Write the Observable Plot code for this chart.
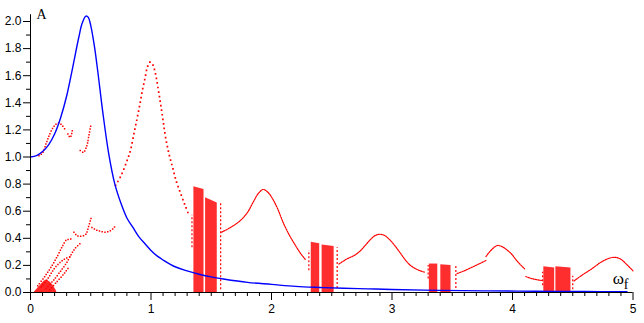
<!DOCTYPE html>
<html>
<head>
<meta charset="utf-8">
<script src="https://cdn.jsdelivr.net/npm/d3@7"></script>
<script src="https://cdn.jsdelivr.net/npm/@observablehq/plot@0.6"></script>
<style>
  html, body { margin: 0; padding: 0; background: #fff; }
  #chart { width: 644px; height: 323px; }
</style>
</head>
<body>
<div id="chart"></div>
<script>
// ---- Axis ticks ----
const xTicks = [0, 1, 2, 3, 4, 5];
const xTickLabels = ["0", "1", "2", "3", "4", "5"];
const yTicks = [0, 0.2, 0.4, 0.6, 0.8, 1.0, 1.2, 1.4, 1.6, 1.8, 2.0];
const yTickLabels = ["0.0", "0.2", "0.4", "0.6", "0.8", "1.0", "1.2", "1.4", "1.6", "1.8", "2.0"];

// ---- Blue curve (linear response amplitude) ----
const blueW = [0, 0.05, 0.10, 0.15, 0.20, 0.25, 0.30, 0.35, 0.40, 0.43, 0.46, 0.48, 0.50, 0.53, 0.56, 0.60, 0.65, 0.70, 0.75, 0.80, 0.85, 0.90, 0.95, 1.00, 1.05, 1.10, 1.20, 1.30, 1.40, 1.50, 1.60, 1.80, 2.00, 2.20, 2.40, 2.60, 2.80, 3.00, 3.40, 3.80, 4.20, 4.60, 4.95];
const blueA = [1.00, 1.01, 1.04, 1.09, 1.17, 1.29, 1.45, 1.66, 1.88, 1.99, 2.04, 2.03, 1.97, 1.82, 1.62, 1.33, 1.02, 0.80, 0.66, 0.55, 0.48, 0.41, 0.36, 0.31, 0.27, 0.24, 0.19, 0.16, 0.135, 0.115, 0.10, 0.075, 0.06, 0.045, 0.037, 0.031, 0.027, 0.022, 0.016, 0.012, 0.009, 0.007, 0.006];

// ---- Red branches (bifurcation diagram), [omega, A] ----
const redPeak1 = [[0.706,0.79],[0.75,0.86],[0.80,0.97],[0.83,1.05],[0.86,1.18],[0.886,1.29],[0.91,1.40],[0.928,1.49],[0.95,1.58],[0.969,1.66],[0.991,1.70],[1.01,1.69],[1.038,1.61],[1.06,1.50],[1.08,1.39],[1.10,1.27],[1.12,1.15],[1.15,1.02],[1.18,0.92],[1.21,0.82],[1.246,0.73],[1.28,0.65],[1.315,0.57]];
const redPeak2 = [[1.585,0.445],[1.66,0.48],[1.74,0.53],[1.80,0.59],[1.85,0.67],[1.89,0.73],[1.93,0.76],[1.97,0.74],[2.01,0.69],[2.05,0.62],[2.10,0.51],[2.15,0.42],[2.19,0.36],[2.24,0.29],[2.28,0.245]];
const redPeak3 = [[2.56,0.21],[2.62,0.245],[2.69,0.275],[2.74,0.31],[2.78,0.35],[2.82,0.39],[2.86,0.42],[2.90,0.43],[2.94,0.42],[2.98,0.39],[3.02,0.35],[3.07,0.29],[3.12,0.23],[3.16,0.195],[3.22,0.165],[3.27,0.15]];
const redPeak4a = [[3.54,0.14],[3.60,0.16],[3.66,0.185],[3.72,0.21],[3.78,0.236]];
const redPeak4b = [[3.78,0.265],[3.82,0.31],[3.875,0.347],[3.92,0.335],[3.96,0.31],[3.99,0.286],[4.04,0.23],[4.10,0.175]];
const redPeak4c = [[4.11,0.118],[4.17,0.10],[4.24,0.089]];
const redPeak5 = [[4.51,0.085],[4.58,0.13],[4.65,0.17],[4.72,0.215],[4.78,0.245],[4.845,0.26],[4.90,0.245],[4.95,0.205],[5.0,0.16]];
const redUpper1 = [[0.07,1.01],[0.10,1.03],[0.13,1.10],[0.16,1.17],[0.19,1.22],[0.21,1.24],[0.235,1.25],[0.26,1.235],[0.29,1.20]];
const redUpper2 = [[0.31,1.17],[0.33,1.145],[0.35,1.21]];
const redUpper3 = [[0.413,1.048],[0.44,1.035],[0.468,1.085],[0.482,1.146],[0.50,1.232]];
const redMid1 = [[0.36,0.445],[0.38,0.425],[0.40,0.415],[0.44,0.418],[0.46,0.43],[0.48,0.48],[0.505,0.556]];
const redMid2 = [[0.51,0.48],[0.55,0.46],[0.58,0.452],[0.62,0.445],[0.66,0.455],[0.69,0.475],[0.71,0.50]];
const redFan1 = [[0.06,0.05],[0.12,0.12],[0.18,0.20],[0.23,0.28],[0.27,0.35],[0.30,0.39],[0.32,0.39],[0.345,0.40]];
const redFan2 = [[0.09,0.04],[0.15,0.11],[0.20,0.18],[0.25,0.225],[0.29,0.25],[0.34,0.265]];
const redFan3 = [[0.13,0.03],[0.20,0.10],[0.26,0.17],[0.30,0.22],[0.34,0.285],[0.37,0.325],[0.41,0.36]];
const redFan4 = [[0.16,0.02],[0.22,0.08],[0.28,0.14],[0.32,0.19]];
const redCluster = [[0.03,0.0],[0.05,0.02],[0.08,0.05],[0.13,0.09],[0.17,0.07],[0.21,0.02],[0.22,0.0]];

// ---- Chaotic bands ----
const chaosLeft     = [1.356, 1.453, 2.33, 2.42, 3.31, 3.405, 4.26, 4.36];
const chaosRight    = [1.44, 1.55, 2.40, 2.52, 3.38, 3.49, 4.35, 4.485];
const chaosTopLeft  = [0.78, 0.70, 0.37, 0.35, 0.21, 0.205, 0.19, 0.19];
const chaosTopRight = [0.76, 0.66, 0.36, 0.34, 0.21, 0.20, 0.18, 0.18];

// ---- Dashed edges of bands ----
const edgeX  = [1.34, 1.578, 2.31, 2.545, 3.30, 3.53, 4.25, 4.50];
const edgeY1 = [0.33, 0.02, 0.16, 0.03, 0.10, 0.03, 0.05, 0.02];
const edgeY2 = [0.57, 0.66, 0.31, 0.33, 0.20, 0.20, 0.15, 0.12];

// ---- Build tables ----
const blue = blueW.map((w, i) => ({w, a: blueA[i]}));
const toRows = arr => arr.map(([w, a]) => ({w, a}));
const chaos = chaosLeft.flatMap((l, i) => [
  {band: i, w: l, a: chaosTopLeft[i]},
  {band: i, w: chaosRight[i], a: chaosTopRight[i]}
]);
const edges = edgeX.map((w, i) => ({w, a1: edgeY1[i], a2: edgeY2[i]}));

const RED = "#ff0000";
const BLUE = "#0000ff";

const sparse = {stroke: RED, strokeWidth: 1.7, strokeDasharray: "0,4.6", strokeLinecap: "square", curve: "catmull-rom"};
const dense = {stroke: RED, strokeWidth: 1.2, strokeDasharray: "1.4,1.1", curve: "catmull-rom"};
const dotted = {stroke: RED, strokeWidth: 1.5, strokeDasharray: "0,2.8", strokeLinecap: "square", curve: "catmull-rom"};

const redLine = (arr, style) => Plot.line(toRows(arr), {x: "w", y: "a", ...style});

const xMinor = d3.range(0, 50.5, 1).map(d => d / 10).filter(d => !xTicks.includes(d));
const yMinor = d3.range(1, 21, 2).map(d => d / 10);

const chart = Plot.plot({
  width: 644,
  height: 323,
  marginLeft: 30,
  marginRight: 11.5,
  marginTop: 7.45,
  marginBottom: 31,
  x: {domain: [0, 5], label: null},
  y: {domain: [0, 2.1], label: null},
  style: {fontFamily: "'Liberation Sans', Arial, sans-serif", fontSize: "12px", background: "#fff", color: "#000"},
  marks: [
    // chaotic bands
    Plot.areaY(chaos, {x: "w", y1: 0, y2: "a", z: "band", fill: RED, fillOpacity: 0.82}),
    Plot.ruleX(edges, {x: "w", y1: "a1", y2: "a2", stroke: RED, strokeWidth: 1.2, strokeDasharray: "2,2"}),
    // red branches
    Plot.areaY(toRows(redCluster), {x: "w", y: "a", fill: RED, fillOpacity: 0.85, curve: "catmull-rom"}),
    redLine(redPeak1, sparse),
    redLine(redPeak2, dense),
    redLine(redPeak3, dense),
    redLine(redPeak4a, dense),
    redLine(redPeak4b, dense),
    redLine(redPeak4c, dense),
    redLine(redPeak5, dense),
    redLine(redUpper1, dotted),
    redLine(redUpper2, dotted),
    redLine(redUpper3, dotted),
    redLine(redMid1, dotted),
    redLine(redMid2, dotted),
    redLine(redFan1, dotted),
    redLine(redFan2, dotted),
    redLine(redFan3, dotted),
    redLine(redFan4, dotted),
    // blue curve
    Plot.line(blue, {x: "w", y: "a", stroke: BLUE, strokeWidth: 1.4, curve: "catmull-rom"}),
    // axes
    Plot.ruleY([0], {stroke: "#000", strokeWidth: 1}),
    Plot.ruleX([0], {y1: 0, y2: 2.05, stroke: "#000", strokeWidth: 1}),
    Plot.axisX({ticks: xTicks, tickSize: 8, tickPadding: 4, tickFormat: d => xTickLabels[xTicks.indexOf(d)], fontSize: 12, label: null}),
    Plot.axisX({ticks: xMinor, tickSize: 4, fill: "none", stroke: "#000", label: null}),
    Plot.axisY({ticks: yTicks, tickSize: 7, tickPadding: 2, tickFormat: d => yTickLabels[yTicks.indexOf(d)], fontSize: 12, label: null}),
    Plot.axisY({ticks: yMinor, tickSize: 4, fill: "none", stroke: "#000", label: null}),
    // axis titles
    Plot.text(["A"], {frameAnchor: "top-left", dx: 6, dy: 1, lineAnchor: "top", textAnchor: "start", fontFamily: "'Liberation Serif', 'Times New Roman', serif", fontSize: 14, fill: "#000"}),
    Plot.text(["ω"], {frameAnchor: "bottom-right", dx: -9, dy: -9, lineAnchor: "bottom", textAnchor: "end", fontFamily: "'Liberation Serif', 'Times New Roman', serif", fontSize: 17, fill: "#000"}),
    Plot.text(["f"], {frameAnchor: "bottom-right", dx: -4.5, dy: -3.5, lineAnchor: "bottom", textAnchor: "end", fontFamily: "'Liberation Serif', 'Times New Roman', serif", fontSize: 14, fill: "#000"})
  ]
});
document.getElementById("chart").appendChild(chart);
</script>
</body>
</html>
